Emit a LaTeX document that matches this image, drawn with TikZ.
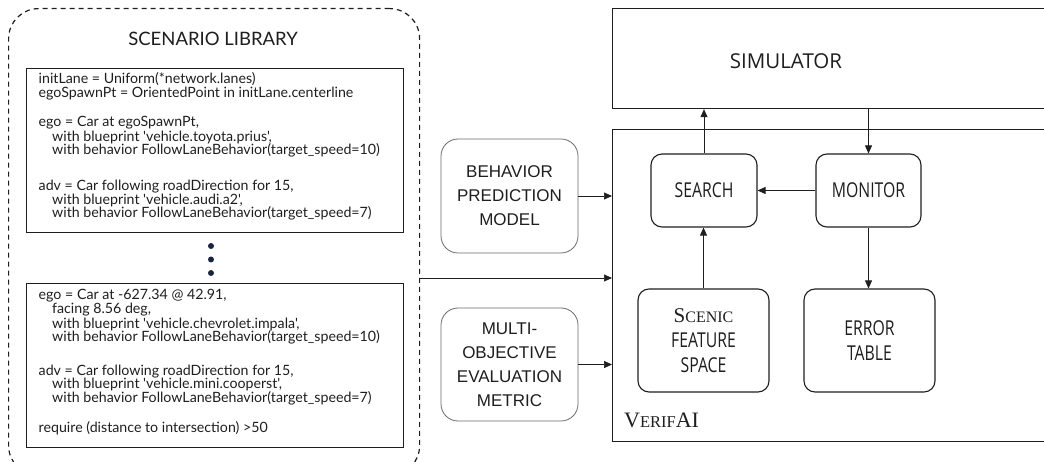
\documentclass[tikz,border=0pt]{standalone}
\usepackage{fontspec}
\setmainfont{Lato}
\newfontfamily\codefont{Lato}
\newfontfamily\osfont{Open Sans}
\newfontfamily\oscond[FakeStretch=0.77]{Open Sans}
\newfontfamily\arialfont{Liberation Sans}
\newfontfamily\timesfont{Liberation Serif}
\usetikzlibrary{arrows.meta}
\definecolor{ink}{HTML}{1E1E1E}
\definecolor{grayline}{HTML}{6A6A6A}
\definecolor{navy}{HTML}{1A2540}
\newcommand\codeline[1]{\hbox{#1}}
\newcommand\codeind[1]{\hbox{\hspace*{13.5pt}#1}}
\tikzset{
  plainbox/.style={draw=ink, line width=1.2pt, inner sep=0pt, anchor=north west},
  rbox/.style={draw=ink, line width=1.1pt, rounded corners=11pt, inner sep=0pt, align=center, text=ink,
    font=\oscond\fontsize{20.5}{25}\selectfont},
  gbox/.style={draw=grayline, line width=0.8pt, rounded corners=17pt, inner sep=0pt, align=center, text=ink,
    font=\arialfont\fontsize{17}{24}\selectfont},
  codetext/.style={inner sep=0pt, anchor=base west, text=ink,
    font=\codefont\fontsize{14.2}{13.6}\selectfont},
  arr/.style={draw=ink, line width=0.7pt, -{Triangle[length=8pt,width=7pt]}},
  dot/.style={circle, fill=navy, inner sep=0pt, minimum size=6pt},
}
\begin{document}
\begin{tikzpicture}[x=1pt,y=-1pt]
\useasboundingbox (0,0) rectangle (1044,462);
\clip (0,0) rectangle (1044,462);

% Scenario library
\node[draw=ink, line width=1.2pt, dash pattern=on 5pt off 4pt, rounded corners=30pt, inner sep=0pt,
      anchor=north west, minimum width=411pt, minimum height=467pt] (lib) at (8,8) {};
\node[text=ink, anchor=base, inner sep=0pt, font=\codefont\fontsize{18.5}{20}\selectfont] (libtitle) at (213,45.7) {SCENARIO LIBRARY};

\node[plainbox, minimum width=377pt, minimum height=164pt] (box1) at (26,68) {};
\node[codetext] (code1) at (38.5,84) {\vtop{\lineskiplimit=-20pt
\codeline{initLane = Uniform(*network.lanes)}
\codeline{egoSpawnPt = OrientedPoint in initLane.centerline}
\vskip15.8pt
\codeline{ego = Car at egoSpawnPt,}
\vskip0.7pt
\codeind{with blueprint 'vehicle.toyota.prius',}
\codeind{with behavior FollowLaneBehavior(target\_speed=10)}
\vskip22pt
\codeline{adv = Car following roadDirection for 15,}
\codeind{with blueprint 'vehicle.audi.a2',}
\codeind{with behavior FollowLaneBehavior(target\_speed=7)}}};

\node[dot] (d1) at (211,246) {};
\node[dot] (d2) at (211,259.5) {};
\node[dot] (d3) at (211,273) {};

\node[plainbox, minimum width=377pt, minimum height=164pt] (box2) at (26,283) {};
\node[codetext] (code2) at (38.5,300) {\vtop{\lineskiplimit=-20pt
\codeline{ego = Car at -627.34 @ 42.91,}
\codeind{facing 8.56 deg,}
\vskip1pt
\codeind{with blueprint 'vehicle.chevrolet.impala',}
\codeind{with behavior FollowLaneBehavior(target\_speed=10)}
\vskip19.8pt
\codeline{adv = Car following roadDirection for 15,}
\codeind{with blueprint 'vehicle.mini.cooperst',}
\codeind{with behavior FollowLaneBehavior(target\_speed=7)}
\vskip17pt
\codeline{require (distance to intersection) >50}}};

% Simulator and VerifAI
\node[plainbox, minimum width=450pt, minimum height=100pt] (sim) at (612,8) {};
\node[text=ink, font=\osfont\fontsize{20.5}{24}\selectfont] (simlabel) at (786,61) {SIMULATOR};
\node[plainbox, minimum width=450pt, minimum height=312pt] (verif) at (612,129) {};
\node[anchor=base west, inner sep=0pt, text=ink] (veriflabel) at (624,427)
  {\timesfont\fontsize{22}{22}\selectfont V{\fontsize{16.5}{22}\selectfont ERIF}AI};

\node[rbox, minimum width=106pt, minimum height=73pt] (search) at (704,190.5) {SEARCH};
\node[rbox, minimum width=105pt, minimum height=73pt] (monitor) at (868.5,190.5) {MONITOR};
\node[rbox, minimum width=131pt, minimum height=103pt] (scenic) at (703.5,340.5)
  {{\timesfont\fontsize{21}{25}\selectfont S{\fontsize{16}{25}\selectfont CENIC}}\\FEATURE\\SPACE};
\node[rbox, minimum width=131pt, minimum height=103pt] (error) at (869.5,340.5) {ERROR\\TABLE};

\node[gbox, minimum width=137pt, minimum height=114pt] (behavior) at (509.5,196) {BEHAVIOR\\PREDICTION\\MODEL};
\node[gbox, minimum width=137pt, minimum height=113pt] (multi) at (509.5,364.5) {MULTI-\\OBJECTIVE\\EVALUATION\\METRIC};

% Connectors
\coordinate (libout) at (lib.east |- {(0,278)});
\draw[arr] (libout) -- (libout -| verif.west);
\draw[arr] (behavior.east) -- (behavior.east -| verif.west);
\draw[arr] (multi.east) -- (multi.east -| verif.west);
\draw[arr] (search.north) -- (search.north |- sim.south);
\draw[arr] (monitor.north |- sim.south) -- (monitor.north);
\draw[arr] (monitor.west) -- (search.east);
\draw[arr] (scenic.north) -- (scenic.north |- search.south);
\draw[arr] (monitor.south) -- (monitor.south |- error.north);
\end{tikzpicture}
\end{document}
